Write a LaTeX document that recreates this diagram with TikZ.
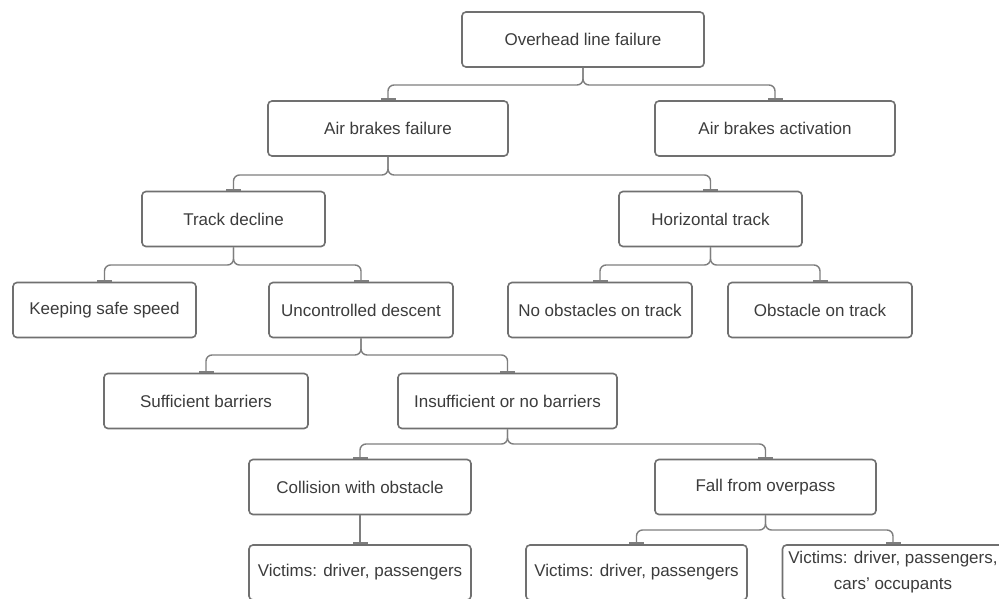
\documentclass[tikz,border=0pt]{standalone}
\usepackage{fontspec}
\setmainfont{Liberation Sans}
\usetikzlibrary{arrows.meta}
\definecolor{boxline}{HTML}{707070}
\definecolor{connline}{HTML}{7E7E7E}
\definecolor{txt}{HTML}{3C3C3C}
\tikzset{
  box/.style={draw=boxline, line width=1.6pt, rounded corners=4pt, fill=white,
    minimum height=55pt, inner sep=2pt, text=txt, align=center,
    font=\fontsize{17}{25}\selectfont},
  conn/.style={draw=connline, line width=1.4pt, rounded corners=6pt,
    -{Bar[width=15pt,line width=2pt,length=0pt]}},
}
\begin{document}
\begin{tikzpicture}[x=1pt,y=-1pt]
\useasboundingbox (0,0) rectangle (999,598);
\fill[white] (0,0) rectangle (999,598);
\clip (0,0) rectangle (999,598);

\node[box, minimum width=242pt] (top) at (583,39.5) {Overhead line failure};
\node[box, minimum width=240pt] (abf) at (388,128.5) {Air brakes failure};
\node[box, minimum width=240pt] (aba) at (775,128.5) {Air brakes activation};
\node[box, minimum width=183pt] (td) at (233.5,219) {Track decline};
\node[box, minimum width=183pt] (ht) at (710.5,219) {Horizontal track};
\node[box, minimum width=183pt] (kss) at (104.5,310) {Keeping safe speed};
\node[box, minimum width=184pt] (ud) at (361,310) {Uncontrolled descent};
\node[box, minimum width=184pt] (noo) at (600,310) {No obstacles on track};
\node[box, minimum width=184pt] (oot) at (820,310) {Obstacle on track};
\node[box, minimum width=204pt] (sb) at (206,401) {Sufficient barriers};
\node[box, minimum width=219pt] (inb) at (507.5,401) {Insufficient or no barriers};
\node[box, minimum width=222pt] (cwo) at (360,487) {Collision with obstacle};
\node[box, minimum width=221pt] (ffo) at (765.5,487) {Fall from overpass};
\node[box, minimum width=222pt] (v1) at (360,572.5) {Victims: driver, passengers};
\node[box, minimum width=221pt] (v2) at (636.5,572.5) {Victims: driver, passengers};
\node[box, minimum width=221pt, font=\fontsize{17}{26}\selectfont] (v3) at (893,572.5) {Victims: driver, passengers,\\cars' occupants};

\coordinate (j1) at (0,85);
\coordinate (j2) at (0,175);
\coordinate (j3) at (0,265);
\coordinate (j4) at (0,355);
\coordinate (j5) at (0,444);
\coordinate (j6) at (0,530);

\draw[conn] (top.south) -- (top.south |- j1) -- (abf.north |- j1) -- (abf.north);
\draw[conn] (top.south) -- (top.south |- j1) -- (aba.north |- j1) -- (aba.north);
\draw[conn] (abf.south) -- (abf.south |- j2) -- (td.north |- j2) -- (td.north);
\draw[conn] (abf.south) -- (abf.south |- j2) -- (ht.north |- j2) -- (ht.north);
\draw[conn] (td.south) -- (td.south |- j3) -- (kss.north |- j3) -- (kss.north);
\draw[conn] (td.south) -- (td.south |- j3) -- (ud.north |- j3) -- (ud.north);
\draw[conn] (ht.south) -- (ht.south |- j3) -- (noo.north |- j3) -- (noo.north);
\draw[conn] (ht.south) -- (ht.south |- j3) -- (oot.north |- j3) -- (oot.north);
\draw[conn] (ud.south) -- (ud.south |- j4) -- (sb.north |- j4) -- (sb.north);
\draw[conn] (ud.south) -- (ud.south |- j4) -- (inb.north |- j4) -- (inb.north);
\draw[conn] (inb.south) -- (inb.south |- j5) -- (cwo.north |- j5) -- (cwo.north);
\draw[conn] (inb.south) -- (inb.south |- j5) -- (ffo.north |- j5) -- (ffo.north);
\draw[conn] (cwo.south) -- (v1.north);
\draw[conn] (ffo.south) -- (ffo.south |- j6) -- (v2.north |- j6) -- (v2.north);
\draw[conn] (ffo.south) -- (ffo.south |- j6) -- (v3.north |- j6) -- (v3.north);
\end{tikzpicture}
\end{document}
